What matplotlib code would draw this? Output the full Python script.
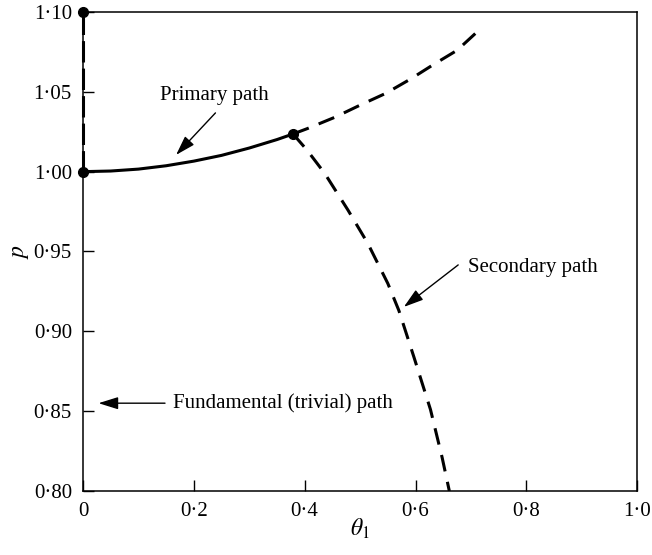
import matplotlib
matplotlib.use("Agg")
import matplotlib.pyplot as plt

plt.rcParams["font.family"] = ["Liberation Serif", "DejaVu Serif"]
plt.rcParams["mathtext.fontset"] = "stix"

# primary path (solid, stable part) up to the bifurcation point
primary_theta = [0.0, 0.05, 0.10, 0.15, 0.20, 0.25, 0.30, 0.35, 0.379]
primary_p = [1.0, 1.0004, 1.0016, 1.0037, 1.0066, 1.0102, 1.0148, 1.0201, 1.0236]

# primary path beyond the bifurcation (dashed)
primary_ext_theta = [0.379, 0.405, 0.454, 0.502, 0.546, 0.591, 0.632, 0.675, 0.711]
primary_ext_p = [1.0236, 1.027, 1.034, 1.042, 1.049, 1.058, 1.067, 1.076, 1.0875]

# secondary path (dashed)
secondary_theta = [0.379, 0.404, 0.436, 0.478, 0.514, 0.550, 0.570, 0.597, 0.627, 0.648, 0.661]
secondary_p = [1.0236, 1.0136, 0.999, 0.976, 0.955, 0.930, 0.913, 0.884, 0.851, 0.821, 0.800]

# fundamental path above p = 1 (dashed, along theta = 0)
fund_theta = [0.0, 0.0]
fund_p = [1.0, 1.10]

# marked points
dots_theta = [0.0, 0.0, 0.379]
dots_p = [1.0, 1.10, 1.0236]

xticks = [0.0, 0.2, 0.4, 0.6, 0.8, 1.0]
xtick_labels = ["0", "0·2", "0·4", "0·6", "0·8", "1·0"]
yticks = [0.80, 0.85, 0.90, 0.95, 1.00, 1.05, 1.10]
ytick_labels = ["0·80", "0·85", "0·90", "0·95", "1·00", "1·05", "1·10"]

fig = plt.figure(figsize=(6.52, 5.55), dpi=100)
ax = fig.add_axes([0.1273, 0.1153, 0.850, 0.8631])

dash = (5.5, 3.5)
ax.plot(primary_theta, primary_p, color="black", lw=2.2, solid_capstyle="butt")
ax.plot(primary_ext_theta, primary_ext_p, color="black", lw=2.2, dashes=dash)
ax.plot(secondary_theta, secondary_p, color="black", lw=2.2, dashes=dash)
ax.plot(fund_theta, fund_p, color="black", lw=2.2, dashes=(7, 2), clip_on=False, zorder=4)
ax.plot(dots_theta, dots_p, "o", color="black", ms=7, clip_on=False, zorder=5)

arrow = dict(arrowstyle="-|>,head_length=0.8,head_width=0.25", color="black",
             lw=1.0, mutation_scale=15, shrinkA=0, shrinkB=0)
ax.annotate("", xy=(0.168, 1.0105), xytext=(0.239, 1.0368), arrowprops=arrow)
ax.text(0.2375, 1.048, "Primary path", fontsize=15, ha="center", va="center")

ax.annotate("", xy=(0.579, 0.9153), xytext=(0.677, 0.9416), arrowprops=arrow)
ax.text(0.811, 0.940, "Secondary path", fontsize=15, ha="center", va="center")

ax.annotate("", xy=(0.028, 0.855), xytext=(0.148, 0.855), arrowprops=arrow)
ax.text(0.163, 0.855, "Fundamental (trivial) path", fontsize=15, ha="left", va="center")

ax.set_xlim(0, 1.0)
ax.set_ylim(0.80, 1.10)
ax.set_xticks(xticks)
ax.set_xticklabels(xtick_labels)
ax.set_yticks(yticks)
ax.set_yticklabels(ytick_labels)
ax.tick_params(direction="in", length=8, width=1.0, labelsize=15, pad=8)
for s in ax.spines.values():
    s.set_linewidth(1.1)

ax.set_xlabel(r"$\theta_1$", fontsize=17, labelpad=-3)
ax.set_ylabel(r"$p$", fontsize=17, labelpad=2)

fig.savefig("out.png", dpi=100)
